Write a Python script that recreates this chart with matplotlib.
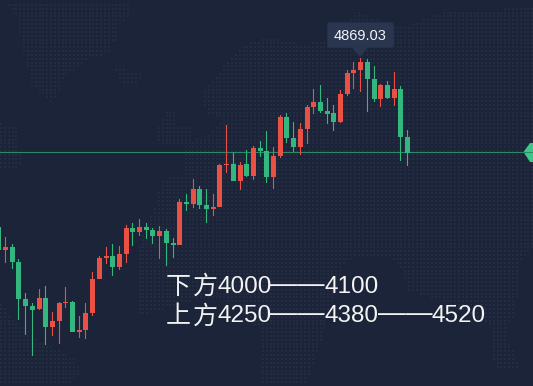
# -*- coding: utf-8 -*-
import matplotlib.pyplot as plt
from matplotlib.patches import FancyBboxPatch, Polygon
from matplotlib.path import Path
import numpy as np

opens = [4531, 4485, 4491, 4461, 4387, 4373, 4367, 4389, 4331, 4343, 4379, 4381, 4321, 4325, 4359, 4427,
         4469, 4473, 4451, 4477, 4529, 4521, 4531, 4525, 4513, 4523, 4499, 4495, 4581, 4577, 4607, 4575,
         4567, 4571, 4655, 4657, 4623, 4657, 4633, 4689, 4683, 4631, 4673, 4751, 4709, 4691, 4727, 4771,
         4781, 4763, 4759, 4741, 4797, 4839, 4845, 4861, 4827, 4787, 4815, 4789, 4807, 4711]
closes = [4485, 4491, 4461, 4387, 4373, 4365, 4389, 4331, 4343, 4379, 4381, 4321, 4325, 4359, 4427, 4469,
          4473, 4451, 4477, 4529, 4521, 4531, 4525, 4513, 4523, 4499, 4495, 4581, 4577, 4607, 4575, 4567,
          4571, 4655, 4657, 4623, 4655, 4633, 4689, 4683, 4631, 4673, 4751, 4709, 4691, 4727, 4771, 4781,
          4763, 4757, 4741, 4797, 4839, 4845, 4861, 4827, 4787, 4815, 4789, 4807, 4711, 4679]
highs = [4533, 4511, 4497, 4467, 4399, 4379, 4407, 4413, 4361, 4381, 4411, 4383, 4353, 4379, 4441, 4473,
         4491, 4497, 4493, 4535, 4539, 4547, 4539, 4529, 4533, 4527, 4509, 4587, 4597, 4627, 4613, 4607,
         4597, 4657, 4735, 4681, 4661, 4685, 4693, 4703, 4723, 4691, 4755, 4759, 4741, 4739, 4775, 4807,
         4815, 4789, 4775, 4805, 4845, 4861, 4869, 4867, 4853, 4817, 4823, 4841, 4813, 4725]
lows = [4481, 4459, 4447, 4345, 4315, 4273, 4365, 4295, 4313, 4297, 4369, 4321, 4309, 4307, 4353, 4427,
        4457, 4433, 4445, 4459, 4493, 4513, 4507, 4497, 4467, 4453, 4469, 4495, 4563, 4569, 4567, 4539,
        4553, 4571, 4639, 4623, 4605, 4631, 4625, 4671, 4619, 4607, 4669, 4699, 4681, 4675, 4697, 4757,
        4759, 4737, 4723, 4739, 4793, 4807, 4801, 4761, 4781, 4771, 4787, 4773, 4663, 4653]
last_price = 4680
tooltip_label = '4869.03'

BG = '#1b2438'
RED = '#ea5044'
GREEN = '#33b77f'

# rough outline of the dotted world map behind the chart, in image pixels
land = [
    [(7, 2), (130, 2), (128, 20), (117, 27), (120, 38), (110, 43), (112, 53), (90, 58), (82, 65), (72, 72),
     (62, 80), (57, 98), (52, 102), (40, 93), (32, 83), (27, 65), (23, 50), (20, 33), (18, 17), (12, 12)],
    [(113, 68), (143, 73), (138, 82), (121, 82)],
    [(0, 123), (18, 128), (16, 145), (25, 165), (2, 170), (0, 170)],
    [(168, 110), (178, 110), (178, 127), (190, 128), (192, 147), (160, 147), (157, 128)],
    [(203, 92), (240, 47), (270, 37), (300, 45), (330, 40), (358, 12), (400, 28), (450, 10), (533, 8),
     (533, 250), (520, 262), (516, 312), (505, 330), (520, 368), (495, 370), (490, 325), (470, 315),
     (440, 300), (408, 290), (400, 265), (385, 255), (345, 260), (333, 300), (320, 345), (305, 386),
     (262, 386), (262, 330), (225, 300), (196, 300), (137, 316), (137, 250), (158, 200), (160, 180),
     (183, 175), (183, 147), (215, 130), (222, 120), (206, 112)],
    [(0, 303), (13, 319), (43, 343), (77, 359), (80, 376), (67, 386), (0, 386)],
]

fig = plt.figure(figsize=(5.33, 3.86), dpi=100, facecolor=BG)

# pixel layer for the background, tooltip and labels
deco = fig.add_axes([0, 0, 1, 1], zorder=1)
deco.set_xlim(0, 533)
deco.set_ylim(386, 0)
deco.axis('off')

gx, gy = np.meshgrid(np.arange(1, 533, 3.85), np.arange(1, 386, 3.85))
pts = np.column_stack([gx.ravel(), gy.ravel()])
for outline in land:
    inside = Path(outline).contains_points(pts)
    deco.scatter(pts[inside, 0], pts[inside, 1], s=4.5, color='#232c41', linewidths=0, marker='s')

# candles, x axis in image pixels so each one lands on whole pixels
ax = fig.add_axes([0, 0, 1, 1], zorder=2)
ax.patch.set_alpha(0)
ax.set_xlim(0, 533)
ax.set_ylim(4213, 4985)
ax.axis('off')

ax.axhline(last_price, color='#2c8a66', lw=0.8, zorder=1, snap=False)

o = np.array(opens)
c = np.array(closes)
xs = np.floor(-1.2 + 6.7 * np.arange(len(o))) + 0.5
colors = [RED if b >= a else GREEN for a, b in zip(o, c)]
wicks = ax.vlines(xs, lows, highs, colors=colors, lw=0.8, zorder=2)
wicks.set_snap(False)
bars = ax.bar(xs, np.maximum(np.abs(c - o), 2), bottom=np.minimum(o, c), width=5, color=colors,
              linewidth=0, zorder=3)
for b in bars:
    b.set_snap(False)

# pointer at the right edge
deco.add_patch(Polygon([(523.5, 152), (530, 143), (534, 143), (534, 162), (530, 162)], closed=True,
                       facecolor='#3cc68a', edgecolor='none', zorder=5))

# tooltip
deco.add_patch(FancyBboxPatch((328, 23), 65, 24, boxstyle='round,pad=0,rounding_size=2',
                              facecolor='#2a3650', edgecolor='#2a3650', lw=1, zorder=6))
deco.add_patch(Polygon([(352, 47.5), (360, 57), (368, 47.5)], closed=True, facecolor='#2a3650',
                       edgecolor='none', zorder=6))
deco.text(360, 35.5, tooltip_label, color='#f2f4f7', fontsize=10.5, ha='center', va='center',
          family='Liberation Sans', zorder=7)

# support / resistance note
cjk = 'Noto Sans CJK SC'
num = 'Liberation Sans'
for y, head, levels in [(293, '下方', ['4000', '4100']), (322.5, '上方', ['4250', '4380', '4520'])]:
    deco.text(166, y + 1, head[0], color='#f2f2f2', fontsize=18, family=cjk, va='baseline', zorder=7)
    deco.text(193, y + 1, head[1], color='#f2f2f2', fontsize=18, family=cjk, va='baseline', zorder=7)
    for i, level in enumerate(levels):
        x = 217 + i * 107.5
        deco.text(x, y, level, color='#f4f4f4', fontsize=17.5, family=num, va='baseline', zorder=7)
        if i < len(levels) - 1:
            deco.text(x + 53.5, y - 1.5, '\u2014\u2014', color='#f4f4f4', fontsize=19.6, family=num,
                      va='baseline', zorder=7)

fig.savefig('out.png', dpi=100, facecolor=BG)
